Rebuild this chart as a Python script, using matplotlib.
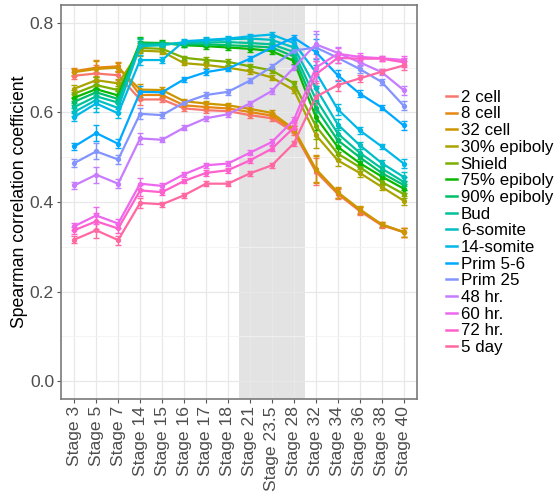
import numpy as np
import matplotlib
matplotlib.use('Agg')
import matplotlib.pyplot as plt
from matplotlib.lines import Line2D

plt.rcParams['font.family'] = ['Liberation Sans', 'DejaVu Sans']

# x axis: Xenopus stages
stages = ['Stage 3', 'Stage 5', 'Stage 7', 'Stage 14', 'Stage 15', 'Stage 16',
          'Stage 17', 'Stage 18', 'Stage 21', 'Stage 23.5', 'Stage 28', 'Stage 32',
          'Stage 34', 'Stage 36', 'Stage 38', 'Stage 40']

# zebrafish stages (legend order)
series_names = ['2 cell', '8 cell', '32 cell', '30% epiboly', 'Shield', '75% epiboly',
                '90% epiboly', 'Bud', '6-somite', '14-somite', 'Prim 5-6', 'Prim 25',
                '48 hr.', '60 hr.', '72 hr.', '5 day']

cell2 = [0.682, 0.687, 0.683, 0.629, 0.629, 0.609, 0.605, 0.603, 0.594, 0.587, 0.556, 0.468, 0.418, 0.380, 0.348, 0.333]
cell8 = [0.692, 0.700, 0.703, 0.639, 0.639, 0.616, 0.612, 0.609, 0.601, 0.593, 0.560, 0.472, 0.420, 0.382, 0.350, 0.333]
cell32 = [0.690, 0.697, 0.700, 0.651, 0.650, 0.625, 0.620, 0.616, 0.608, 0.599, 0.563, 0.474, 0.422, 0.384, 0.350, 0.333]
epi30 = [0.653, 0.672, 0.665, 0.738, 0.736, 0.710, 0.706, 0.700, 0.692, 0.678, 0.650, 0.550, 0.493, 0.465, 0.434, 0.403]
shield = [0.642, 0.661, 0.650, 0.744, 0.742, 0.722, 0.717, 0.713, 0.703, 0.694, 0.665, 0.570, 0.508, 0.478, 0.445, 0.418]
epi75 = [0.633, 0.652, 0.638, 0.756, 0.755, 0.750, 0.748, 0.745, 0.742, 0.737, 0.715, 0.590, 0.523, 0.487, 0.457, 0.430]
epi90 = [0.624, 0.645, 0.630, 0.754, 0.754, 0.752, 0.752, 0.750, 0.748, 0.745, 0.725, 0.610, 0.538, 0.500, 0.465, 0.438]
bud = [0.612, 0.636, 0.622, 0.752, 0.752, 0.755, 0.756, 0.757, 0.755, 0.752, 0.735, 0.630, 0.553, 0.510, 0.475, 0.445]
som6 = [0.601, 0.628, 0.610, 0.748, 0.750, 0.757, 0.760, 0.763, 0.765, 0.762, 0.745, 0.655, 0.573, 0.527, 0.487, 0.456]
som14 = [0.590, 0.620, 0.598, 0.717, 0.717, 0.759, 0.762, 0.765, 0.770, 0.774, 0.755, 0.690, 0.607, 0.560, 0.524, 0.486]
prim5 = [0.524, 0.554, 0.530, 0.646, 0.645, 0.674, 0.690, 0.698, 0.720, 0.745, 0.767, 0.735, 0.683, 0.642, 0.611, 0.571]
prim25 = [0.487, 0.513, 0.495, 0.597, 0.594, 0.622, 0.639, 0.646, 0.671, 0.702, 0.738, 0.745, 0.722, 0.697, 0.668, 0.615]
hr48 = [0.437, 0.461, 0.441, 0.542, 0.539, 0.566, 0.587, 0.596, 0.620, 0.648, 0.700, 0.752, 0.733, 0.712, 0.690, 0.650]
hr60 = [0.346, 0.370, 0.352, 0.441, 0.436, 0.462, 0.482, 0.486, 0.510, 0.534, 0.583, 0.700, 0.731, 0.724, 0.721, 0.717]
hr72 = [0.337, 0.357, 0.341, 0.426, 0.422, 0.447, 0.465, 0.471, 0.493, 0.519, 0.566, 0.685, 0.722, 0.720, 0.720, 0.712]
day5 = [0.316, 0.337, 0.315, 0.398, 0.395, 0.415, 0.441, 0.441, 0.464, 0.482, 0.531, 0.635, 0.661, 0.676, 0.691, 0.705]

series = [cell2, cell8, cell32, epi30, shield, epi75, epi90, bud, som6, som14,
          prim5, prim25, hr48, hr60, hr72, day5]

# approximate half-width of the error bars at each stage
stage_err = [0.008, 0.018, 0.010, 0.012, 0.006, 0.005, 0.006, 0.006, 0.006, 0.006,
             0.006, 0.030, 0.012, 0.008, 0.006, 0.010]


def hue_colour(h, c=100.0, l=65.0):
    # ggplot2 default palette (HCL -> sRGB)
    hr = np.deg2rad(h)
    u, v = c * np.cos(hr), c * np.sin(hr)
    Xn, Yn, Zn = 95.047, 100.0, 108.883
    Y = Yn * ((l + 16) / 116) ** 3
    den = Xn + 15 * Yn + 3 * Zn
    up = u / (13 * l) + 4 * Xn / den
    vp = v / (13 * l) + 9 * Yn / den
    X = 9 * Y * up / (4 * vp)
    Z = -X / 3 - 5 * Y + 3 * Y / vp
    m = np.array([[3.240479, -1.537150, -0.498535],
                  [-0.969256, 1.875992, 0.041556],
                  [0.055648, -0.204043, 1.057311]])
    lin = m @ (np.array([X, Y, Z]) / 100)
    rgb = np.where(lin > 0.0031308, 1.055 * np.abs(lin) ** (1 / 2.4) - 0.055, 12.92 * lin)
    return tuple(np.clip(rgb, 0, 1))


hues = np.linspace(15, 375, len(series_names) + 1)[:-1]
colours = [hue_colour(h) for h in hues]

fig = plt.figure(figsize=(5.55, 4.94), dpi=100)
ax = fig.add_axes([0.110, 0.192, 0.641, 0.798])

x = np.arange(1, len(stages) + 1)

ax.axvspan(8.5, 11.5, color='#e3e3e3', zorder=0.5, lw=0)

for name, vals, col in zip(series_names, series, colours):
    ax.errorbar(x, vals, yerr=stage_err, color=col, lw=1.6, elinewidth=1.0,
                capsize=2, capthick=1.0, marker='o', ms=2.8, zorder=2)

ax.set_xlim(0.4, 16.6)
ax.set_ylim(-0.04, 0.84)
ax.set_xticks(x)
ax.set_xticklabels(stages, rotation=90, fontsize=12.6, color='#4d4d4d')
ax.set_yticks([0.0, 0.2, 0.4, 0.6, 0.8])
ax.set_yticklabels(['0.0', '0.2', '0.4', '0.6', '0.8'], fontsize=12.6, color='#4d4d4d')
ax.set_yticks([0.1, 0.3, 0.5, 0.7], minor=True)
ax.set_ylabel('Spearman correlation coefficient', fontsize=12.7, color='black', labelpad=1)

ax.grid(True, which='major', color='#e8e8e8', lw=0.9, zorder=0)
ax.grid(True, which='minor', axis='y', color='#f2f2f2', lw=0.6, zorder=0)
ax.set_axisbelow(True)
ax.tick_params(which='major', length=3, width=0.8, color='#555555', pad=2)
ax.tick_params(which='minor', length=0)
for s in ax.spines.values():
    s.set_color('#7a7a7a')
    s.set_linewidth(1.2)

handles = [Line2D([0], [0], color=c, lw=1.8) for c in colours]
fig.legend(handles, series_names, loc='upper left', bbox_to_anchor=(0.792, 0.832),
           frameon=False, fontsize=12.2, handlelength=0.6, handletextpad=0.25,
           labelspacing=0.1, borderaxespad=0)

fig.savefig('out.png', dpi=100)
